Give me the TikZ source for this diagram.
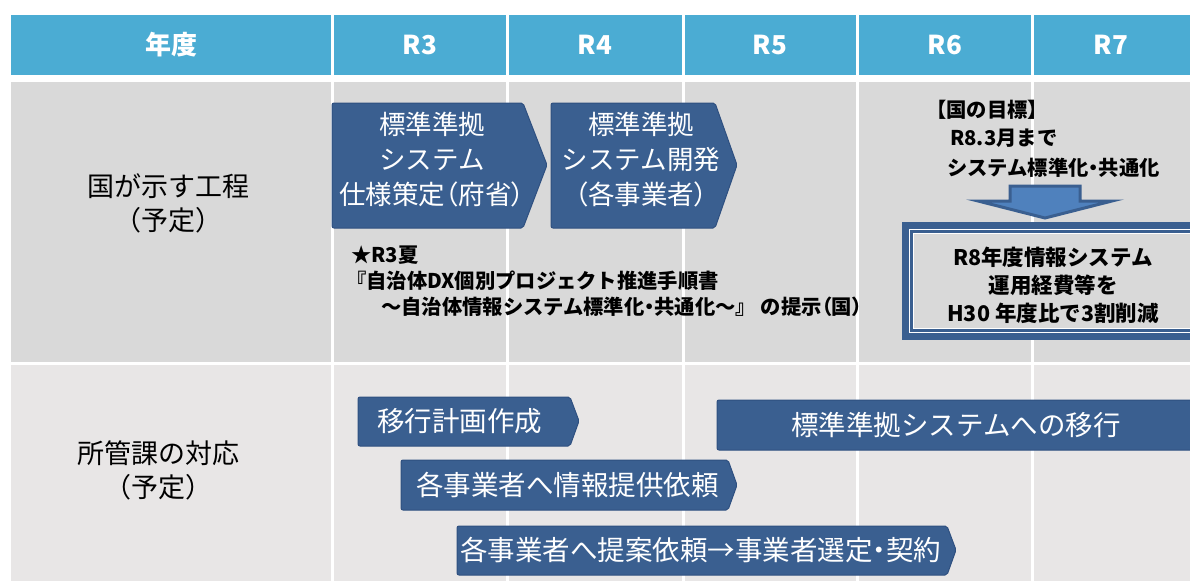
\documentclass[tikz,border=0pt]{standalone}
\usepackage{fontspec}
\setmainfont{Noto Sans CJK JP}
\newfontfamily\paltfont[RawFeature=+palt]{Noto Sans CJK JP}
\newcommand{\pn}[1]{{\paltfont #1}}
\definecolor{hdr}{HTML}{4BACD3}
\definecolor{rowa}{HTML}{D9D9D9}
\definecolor{rowb}{HTML}{E8E6E6}
\definecolor{boxblue}{HTML}{3A5F90}
\definecolor{boxedge}{HTML}{2F5080}
\definecolor{arrlight}{HTML}{4F81BD}
\tikzset{
  hdrtext/.style={text=white,font=\fontsize{26}{30}\selectfont\bfseries},
  lbl/.style={align=center,font=\fontsize{27}{34}\selectfont},
  bluebox/.style={fill=boxblue,draw=boxedge,line width=1pt,rounded corners=2pt},
  boxtext/.style={text=white,align=center,font=\fontsize{26.5}{35}\selectfont},
  bartext/.style={text=white,font=\fontsize{27.5}{32}\selectfont,inner sep=0pt},
  note/.style={font=\fontsize{20.3}{26}\selectfont\bfseries,inner sep=0pt,align=left},
  goaltext/.style={font=\fontsize{21.5}{28}\selectfont\bfseries,inner sep=0pt,align=center},
}
\begin{document}
\begin{tikzpicture}[x=1pt,y=-1pt]
\useasboundingbox (0,0) rectangle (1190,581);
\fill[white] (0,0) rectangle (1190,581);
% table
\fill[hdr] (11,15) rectangle (1190,75);
\fill[rowa] (11,82) rectangle (1190,362);
\fill[rowb] (11,365) rectangle (1190,581);
\foreach \x in {332,507,683,857,1032} \draw[white,line width=3pt] (\x,15) -- (\x,581);
% header
\node[hdrtext] (h0) at (171,45) {年度};
\node[hdrtext] (h3) at (420,45) {R3};
\node[hdrtext] (h4) at (595,45) {R4};
\node[hdrtext] (h5) at (770,45) {R5};
\node[hdrtext] (h6) at (945,45) {R6};
\node[hdrtext] (h7) at (1111,45) {R7};
% row labels
\node[lbl] (l1) at (168,203) {国が示す工程\\（予定）};
\node[lbl] (l2) at (158,470) {所管課の対応\\（予定）};
% row 1 boxes
\path[bluebox] (332,103) -- (523,103) -- (547,165) -- (523,228) -- (332,228) -- cycle;
\node[boxtext] (b1) at (432,160) {標準準拠\\システム\\仕様策定\pn{（}府省\pn{）}};
\path[bluebox] (551,103) -- (715,103) -- (737,165) -- (715,228) -- (551,228) -- cycle;
\node[boxtext] (b2) at (641,160) {標準準拠\\システム開発\\\pn{（}各事業者\pn{）}};
% note
\node[note,anchor=west] (n1) at (351,255) {★R3夏};
\node[note,anchor=west] (n2) at (346,281) {『自治体DX個別プロジェクト推進手順書};
\node[note,anchor=west] (n3) at (381,307) {～自治体情報システム標準化\pn{・}共通化～』 の提示\pn{（}国\pn{）}};
% goal
\node[note,anchor=west] (g1) at (926,110) {【国の目標】};
\node[note,anchor=west] (g2) at (950,138) {R8.3月まで};
\node[note,anchor=west] (g3) at (947,168) {システム標準化\pn{・}共通化};
\path[fill=arrlight,draw=boxblue,line width=3pt,line join=miter]
  (1010,186) -- (1080,186) -- (1080,201) -- (1112,201) -- (1045,218) -- (978,201) -- (1010,201) -- cycle;
\fill[rowa] (902,222) rectangle (1200,340);
\draw[boxblue,line width=7pt] (905.5,225.5) rectangle (1200,336.5);
\draw[white,line width=1.5pt] (909.7,229.7) rectangle (1200,332.3);
\draw[boxblue,line width=2.5pt] (911.7,231.7) rectangle (1200,330.3);
\draw[white,line width=0.8pt] (913.4,233.4) rectangle (1200,328.6);
\node[goaltext] (g4) at (1053,285) {R8年度情報システム\\運用経費等を\\H30 年度比で3割削減};
% row 2 bars
\path[bluebox] (358,397) -- (570,397) -- (579,421) -- (570,446) -- (358,446) -- cycle;
\node[bartext,anchor=west] (t1) at (377,421) {移行計画作成};
\path[bluebox] (401,460) -- (728,460) -- (737,485) -- (728,510) -- (401,510) -- cycle;
\node[bartext,anchor=west] (t2) at (416,485) {各事業者へ情報提供依頼};
\path[bluebox] (457,526) -- (947,526) -- (956,550) -- (947,575) -- (457,575) -- cycle;
\node[bartext,anchor=west] (t3) at (460,550) {各事業者へ提案依頼→事業者選定\pn{・}契約};
\path[bluebox] (717,400) -- (1200,400) -- (1200,450) -- (717,450) -- cycle;
\node[bartext] (t4) at (956,425) {標準準拠システムへの移行};
\end{tikzpicture}
\end{document}
